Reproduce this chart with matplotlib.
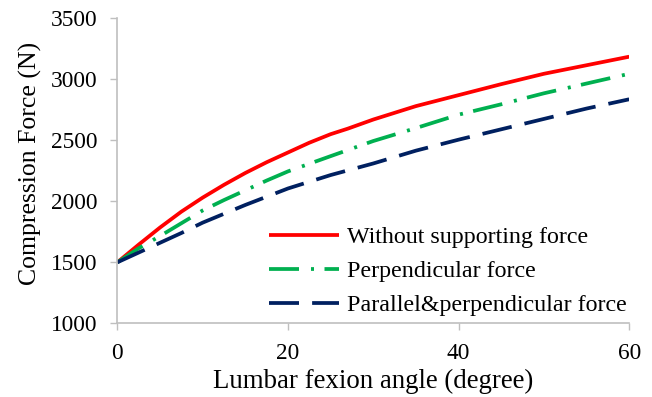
import matplotlib
matplotlib.use("Agg")
import matplotlib.pyplot as plt

angle_r = [0, 2.5, 5, 7.5, 10, 12.5, 15, 17.5, 20, 22.5, 25, 27, 30, 35, 40, 45, 50, 55, 60]
without_force = [1500, 1645, 1785, 1915, 2030, 2135, 2232, 2320, 2400, 2480, 2550, 2595, 2670, 2780, 2870, 2960, 3045, 3115, 3185]
angle_g = [0, 2.5, 5, 7.5, 10, 12.5, 15, 17.5, 20, 25, 30, 35, 40, 45, 50, 55, 60]
perpendicular = [1500, 1615, 1715, 1820, 1925, 2010, 2090, 2170, 2245, 2370, 2494, 2600, 2710, 2795, 2885, 2965, 3045]
angle_b = [0, 2.5, 5, 7.5, 10, 15, 20, 25, 30, 35, 40, 45, 50, 55, 60]
parallel_perp = [1500, 1580, 1660, 1740, 1825, 1970, 2105, 2215, 2310, 2415, 2505, 2590, 2675, 2760, 2836]

labels = ["Without supporting force", "Perpendicular force", "Parallel&perpendicular force"]
xticks = [0, 20, 40, 60]
yticks = [1000, 1500, 2000, 2500, 3000, 3500]

plt.rcParams['font.family'] = ['Liberation Serif', 'DejaVu Serif']

fig = plt.figure(figsize=(6.52, 3.97), dpi=100)
ax = fig.add_axes([0.180, 0.1856, 0.785, 0.7684])

lw = 2.7
ax.plot(angle_r, without_force, color='#FF0000', lw=lw, label=labels[0],
        solid_capstyle='butt', solid_joinstyle='round')
ax.plot(angle_g, perpendicular, color='#00B050', lw=lw, label=labels[1],
        dashes=(8, 3.2, 0.8, 2.8), dash_capstyle='butt')
ax.plot(angle_b, parallel_perp, color='#002060', lw=lw, label=labels[2],
        dashes=(8, 3.5), dash_capstyle='butt')

ax.set_xlim(0, 60)
ax.set_ylim(1000, 3500)
ax.set_xticks(xticks)
ax.set_yticks(yticks)
ax.tick_params(axis='both', labelsize=16.8, color='#BFBFBF', length=5, width=1, direction='out')
ax.tick_params(axis='x', pad=9)
ax.tick_params(axis='y', pad=9)
for s in ['top', 'right']:
    ax.spines[s].set_visible(False)
for s in ['left', 'bottom']:
    ax.spines[s].set_color('#BFBFBF')
    ax.spines[s].set_linewidth(1.2)

ax.set_xlabel("Lumbar fexion angle (degree)", fontsize=19.4, labelpad=4)
ax.set_ylabel("Compression Force (N)", fontsize=18.5)
ax.yaxis.set_label_coords(-0.147, 0.5256)

ax.legend(loc='center left', bbox_to_anchor=(0.2968, 0.1705), frameon=False, fontsize=17.3,
          handlelength=2.92, handletextpad=0.33, labelspacing=0.5,
          borderpad=0, borderaxespad=0)

fig.savefig("out.png", dpi=100)
